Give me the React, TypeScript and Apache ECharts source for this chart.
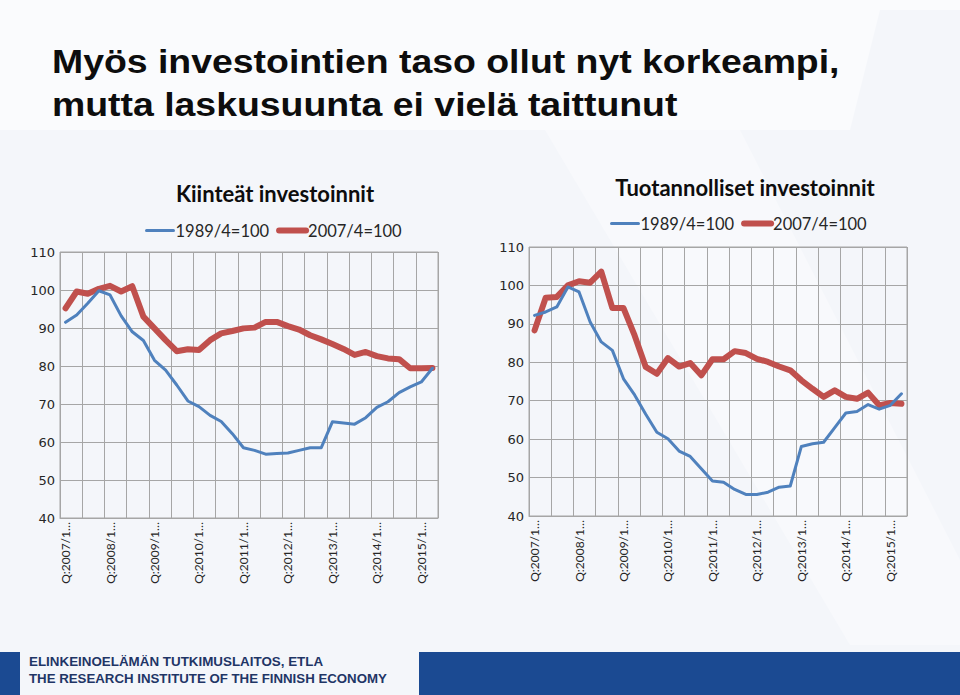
import React, { useEffect, useRef } from "react";
import * as echarts from "echarts";

const quarters = [
  "Q:2007/1", "Q:2007/2", "Q:2007/3", "Q:2007/4",
  "Q:2008/1", "Q:2008/2", "Q:2008/3", "Q:2008/4",
  "Q:2009/1", "Q:2009/2", "Q:2009/3", "Q:2009/4",
  "Q:2010/1", "Q:2010/2", "Q:2010/3", "Q:2010/4",
  "Q:2011/1", "Q:2011/2", "Q:2011/3", "Q:2011/4",
  "Q:2012/1", "Q:2012/2", "Q:2012/3", "Q:2012/4",
  "Q:2013/1", "Q:2013/2", "Q:2013/3", "Q:2013/4",
  "Q:2014/1", "Q:2014/2", "Q:2014/3", "Q:2014/4",
  "Q:2015/1", "Q:2015/2",
];

const seriesNames = ["1989/4=100", "2007/4=100"];

// Kiinteät investoinnit
const fixed1989 = [
  91.5, 93.4, 96.5, 99.8, 98.7, 93.2, 89.0, 86.7, 81.5, 78.9, 75.0, 70.8,
  69.3, 67.0, 65.4, 62.2, 58.5, 57.8, 56.8, 57.0, 57.1, 57.8, 58.5, 58.5,
  65.3, 65.0, 64.7, 66.4, 69.1, 70.6, 73.0, 74.5, 75.8, 79.4,
];
const fixed2007 = [
  95.2, 99.6, 99.0, 100.3, 101.1, 99.6, 101.0, 93.0, 89.9, 86.8, 83.9, 84.4,
  84.2, 86.8, 88.6, 89.2, 89.9, 90.1, 91.6, 91.6, 90.5, 89.6, 88.1, 87.0,
  85.8, 84.5, 82.9, 83.7, 82.6, 82.0, 81.8, 79.4, 79.4, 79.5,
];

// Tuotannolliset investoinnit
const prod1989 = [
  92.2, 93.1, 94.4, 99.6, 98.3, 90.5, 85.3, 83.1, 75.7, 71.5, 66.5, 61.8,
  60.1, 56.9, 55.5, 52.3, 49.1, 48.8, 46.9, 45.6, 45.6, 46.2, 47.5, 47.8,
  58.1, 58.8, 59.2, 63.0, 66.8, 67.2, 69.0, 67.8, 68.8, 71.8,
];
const prod2007 = [
  88.3, 96.8, 97.0, 100.0, 101.1, 100.7, 103.6, 94.1, 94.1, 87.0, 78.8, 77.0,
  81.1, 78.9, 79.8, 76.6, 80.8, 80.8, 82.9, 82.4, 80.9, 80.1, 78.9, 77.9,
  75.3, 73.1, 71.0, 72.7, 71.0, 70.5, 72.1, 68.8, 69.4, 69.2,
];

const titleLines = [
  "Myös investointien taso ollut nyt korkeampi,",
  "mutta laskusuunta ei vielä taittunut",
];
const chartTitles = ["Kiinteät investoinnit", "Tuotannolliset investoinnit"];
const footerLines = [
  "ELINKEINOELÄMÄN TUTKIMUSLAITOS, ETLA",
  "THE RESEARCH INSTITUTE OF THE FINNISH ECONOMY",
];

const BLUE = "#4F81BD";
const RED = "#C0504D";
const GRID = "#a6a6a6";
const TXT = "#262626";

function axisX(gridIndex: number) {
  return {
    type: "category",
    gridIndex,
    data: quarters,
    boundaryGap: true,
    axisLine: { show: true, lineStyle: { color: GRID, width: 1 } },
    axisTick: { show: false },
    axisLabel: {
      interval: 3,
      rotate: 90,
      margin: 4,
      fontFamily: "Lato",
      fontSize: 12,
      color: TXT,
      formatter: (v: string) => v + "…",
    },
    splitLine: { show: true, interval: 1, lineStyle: { color: GRID, width: 1 } },
  };
}

function axisY(gridIndex: number) {
  return {
    type: "value",
    gridIndex,
    min: 40,
    max: 110,
    interval: 10,
    axisLine: { show: false },
    axisTick: { show: false },
    axisLabel: { margin: 5, fontFamily: "DejaVu Sans", fontSize: 13, color: TXT },
    splitLine: { show: true, lineStyle: { color: GRID, width: 1 } },
  };
}

function lineSeries(name: string, data: number[], idx: number, color: string, width: number, z: number) {
  return {
    type: "line",
    name,
    xAxisIndex: idx,
    yAxisIndex: idx,
    data,
    symbol: "none",
    showSymbol: false,
    z,
    lineStyle: { color, width, cap: "round", join: "round" },
    itemStyle: { color },
  };
}

function legend(left: number, top: number) {
  return {
    data: [
      { name: seriesNames[0], itemStyle: { opacity: 0 }, lineStyle: { width: 3, color: BLUE } },
      { name: seriesNames[1], itemStyle: { opacity: 0 }, lineStyle: { width: 6, color: RED, cap: "round" } },
    ],
    left,
    top,
    itemWidth: 27,
    itemHeight: 14,
    itemGap: 7,
    selectedMode: false,
    textStyle: { fontFamily: "Lato", fontSize: 16.5, color: TXT, padding: [0, 0, 0, -3] },
  };
}

export default function App() {
  const ref = useRef<HTMLDivElement>(null);
  useEffect(() => {
    if (!ref.current) return;
    const chart = echarts.init(ref.current, null, { renderer: "svg" });
    const option = {
      animation: false,
      backgroundColor: "#f4f6fa",
      graphic: [
        { type: "polygon", z: -10, silent: true, shape: { points: [[0, 0], [960, 0], [960, 10], [880, 10], [850, 130], [0, 130]] }, style: { fill: "#fafbfd" } },
        { type: "polygon", z: -10, silent: true, shape: { points: [[545, 130], [740, 130], [960, 560], [960, 645], [850, 645]] }, style: { fill: "#f8f9fc" } },
        {
          type: "text", x: 52, y: 61.5, scaleX: 1.1, z: 10,
          style: { text: titleLines[0], x: 0, y: 0, fill: "#0d0d0d", font: "bold 34px 'Liberation Sans', Arial, sans-serif", verticalAlign: "middle", align: "left" },
        },
        {
          type: "text", x: 52, y: 104.5, scaleX: 1.1, z: 10,
          style: { text: titleLines[1], x: 0, y: 0, fill: "#0d0d0d", font: "bold 34px 'Liberation Sans', Arial, sans-serif", verticalAlign: "middle", align: "left" },
        },
        {
          type: "text", x: 275, y: 193, z: 10,
          style: { text: chartTitles[0], x: 0, y: 0, fill: "#0d0d0d", font: "bold 22px Lato, sans-serif", verticalAlign: "middle", align: "center" },
        },
        {
          type: "text", x: 745, y: 187, z: 10,
          style: { text: chartTitles[1], x: 0, y: 0, fill: "#0d0d0d", font: "bold 22px Lato, sans-serif", verticalAlign: "middle", align: "center" },
        },
        { type: "rect", z: 5, silent: true, shape: { x: 0, y: 652, width: 20, height: 43 }, style: { fill: "#1b4a92" } },
        { type: "rect", z: 5, silent: true, shape: { x: 419, y: 652, width: 541, height: 43 }, style: { fill: "#1b4a92" } },
        {
          type: "text", x: 29, y: 662, scaleX: 1.03, z: 10,
          style: { text: footerLines[0], x: 0, y: 0, fill: "#1f3566", font: "bold 13px 'Liberation Sans', Arial, sans-serif", verticalAlign: "middle", align: "left" },
        },
        {
          type: "text", x: 29, y: 679, scaleX: 1.02, z: 10,
          style: { text: footerLines[1], x: 0, y: 0, fill: "#1f3566", font: "bold 13px 'Liberation Sans', Arial, sans-serif", verticalAlign: "middle", align: "left" },
        },
      ],
      legend: [legend(140, 217), legend(605, 210)],
      grid: [
        { left: 60, top: 252, width: 378, height: 266, show: true, borderColor: GRID, borderWidth: 1, backgroundColor: "transparent" },
        { left: 529, top: 247, width: 378, height: 269, show: true, borderColor: GRID, borderWidth: 1, backgroundColor: "transparent" },
      ],
      xAxis: [axisX(0), axisX(1)],
      yAxis: [axisY(0), axisY(1)],
      series: [
        lineSeries(seriesNames[1], fixed2007, 0, RED, 6, 2),
        lineSeries(seriesNames[0], fixed1989, 0, BLUE, 3, 3),
        lineSeries(seriesNames[1], prod2007, 1, RED, 6, 2),
        lineSeries(seriesNames[0], prod1989, 1, BLUE, 3, 3),
      ],
    };
    chart.setOption(option as any);
    return () => chart.dispose();
  }, []);
  return (
    <div
      ref={ref}
      style={{ position: "fixed", left: 0, top: 0, width: 960, height: 695 }}
    />
  );
}
